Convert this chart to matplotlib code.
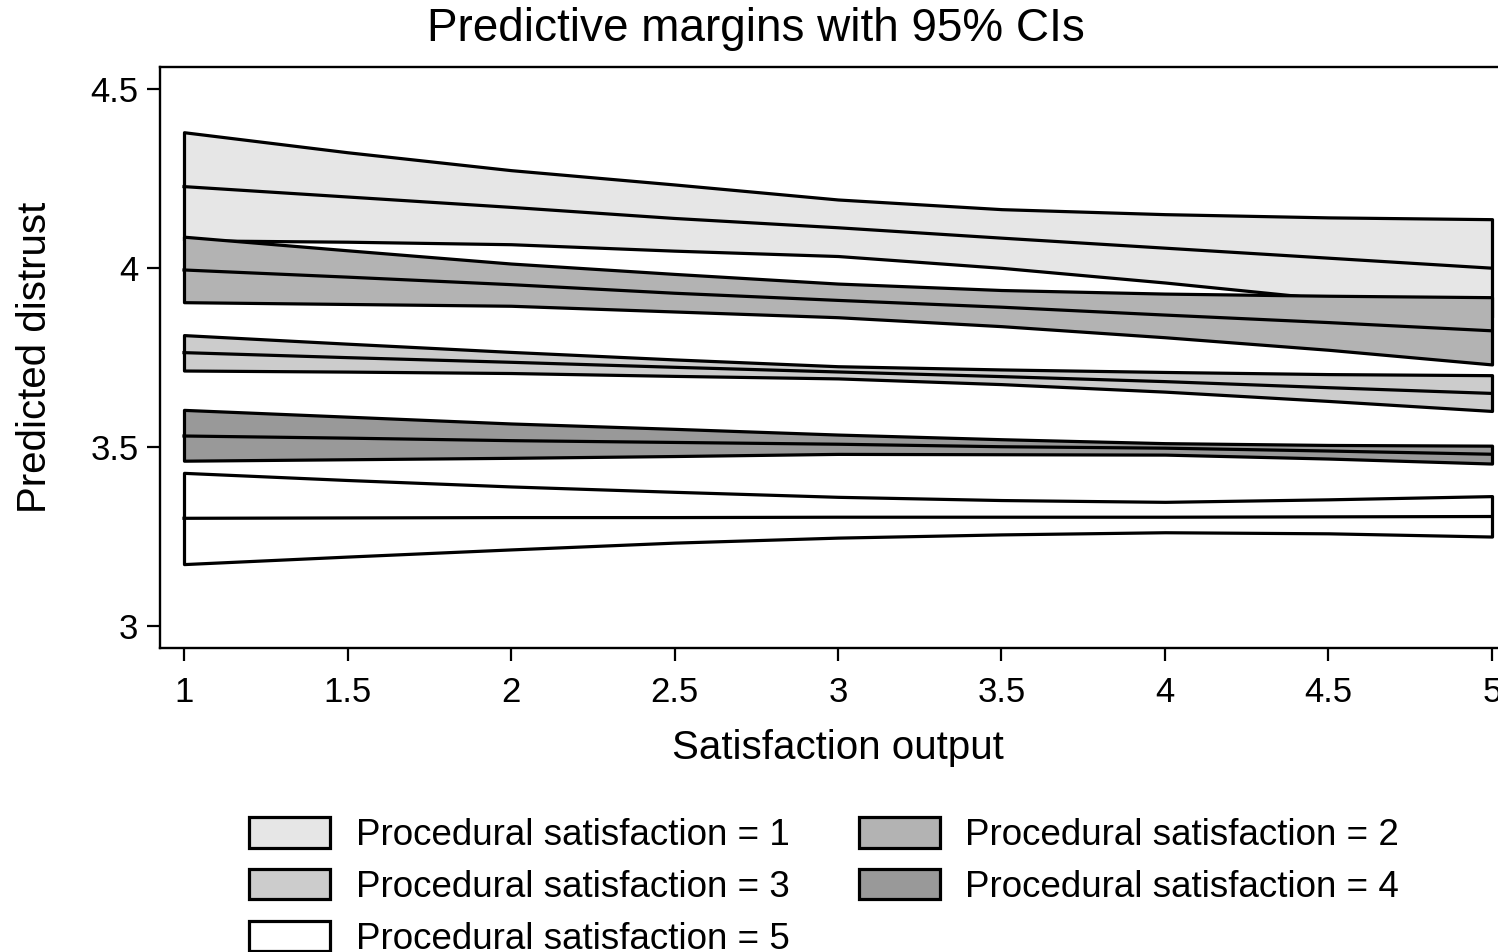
import matplotlib
matplotlib.use('Agg')
import matplotlib.pyplot as plt

plt.rcParams['font.family'] = ['Liberation Sans', 'DejaVu Sans']

# satisfaction output values (x)
sat_output = [1, 1.5, 2, 2.5, 3, 3.5, 4, 4.5, 5]

# predictive margins and 95% CI bounds, one set per procedural satisfaction level
ps1_mean = [4.228, 4.199, 4.170, 4.139, 4.113, 4.084, 4.056, 4.028, 4.000]
ps1_upper = [4.380, 4.324, 4.274, 4.234, 4.192, 4.165, 4.151, 4.142, 4.137]
ps1_lower = [4.078, 4.074, 4.067, 4.049, 4.034, 4.001, 3.960, 3.914, 3.863]

ps2_mean = [3.995, 3.975, 3.954, 3.930, 3.910, 3.891, 3.869, 3.848, 3.825]
ps2_upper = [4.088, 4.050, 4.013, 3.984, 3.957, 3.939, 3.929, 3.923, 3.919]
ps2_lower = [3.905, 3.900, 3.895, 3.879, 3.863, 3.838, 3.807, 3.772, 3.731]

ps3_mean = [3.764, 3.750, 3.737, 3.723, 3.710, 3.697, 3.683, 3.666, 3.650]
ps3_upper = [3.813, 3.789, 3.766, 3.745, 3.726, 3.717, 3.710, 3.704, 3.701]
ps3_lower = [3.714, 3.711, 3.707, 3.699, 3.692, 3.676, 3.655, 3.629, 3.601]

ps4_mean = [3.531, 3.525, 3.518, 3.513, 3.508, 3.501, 3.497, 3.489, 3.480]
ps4_upper = [3.604, 3.585, 3.566, 3.551, 3.535, 3.522, 3.511, 3.506, 3.504]
ps4_lower = [3.462, 3.466, 3.470, 3.475, 3.481, 3.480, 3.479, 3.468, 3.454]

ps5_mean = [3.301, 3.302, 3.303, 3.303, 3.304, 3.304, 3.304, 3.305, 3.306]
ps5_upper = [3.428, 3.408, 3.390, 3.375, 3.361, 3.352, 3.347, 3.354, 3.363]
ps5_lower = [3.173, 3.194, 3.214, 3.233, 3.247, 3.256, 3.262, 3.259, 3.250]

labels = ['Procedural satisfaction = %d' % i for i in range(1, 6)]
colors = ['#e6e6e6', '#b3b3b3', '#cccccc', '#999999', '#ffffff']

groups = [
    (ps1_mean, ps1_lower, ps1_upper),
    (ps2_mean, ps2_lower, ps2_upper),
    (ps3_mean, ps3_lower, ps3_upper),
    (ps4_mean, ps4_lower, ps4_upper),
    (ps5_mean, ps5_lower, ps5_upper),
]

fig = plt.figure(figsize=(14.98, 9.52), dpi=100)
ax = fig.add_axes([160 / 1498, 304 / 952, 1356 / 1498, 581 / 952])

handles = []
for (m, lo, hi), c, lab in zip(groups, colors, labels):
    h = ax.fill_between(sat_output, lo, hi, facecolor=c, edgecolor='black',
                        linewidth=2.3, label=lab, zorder=2)
    handles.append(h)
for (m, lo, hi) in groups:
    ax.plot(sat_output, m, color='black', linewidth=2.3, zorder=3)

ax.set_xlim(0.9266, 5.0734)
ax.set_ylim(2.9385, 4.5623)
ax.set_xticks([1, 1.5, 2, 2.5, 3, 3.5, 4, 4.5, 5])
ax.set_xticklabels(['1', '1.5', '2', '2.5', '3', '3.5', '4', '4.5', '5'])
ax.set_yticks([3, 3.5, 4, 4.5])
ax.set_yticklabels(['3', '3.5', '4', '4.5'])
ax.tick_params(axis='both', direction='out', length=9.5, width=1.6,
               labelsize=25)
ax.tick_params(axis='x', pad=11)
ax.tick_params(axis='y', pad=6)
for s in ax.spines.values():
    s.set_linewidth(1.7)

ax.set_xlabel('Satisfaction output', fontsize=29, labelpad=14)
ax.set_ylabel('Predicted distrust', fontsize=29, labelpad=26)
fig.text(756 / 1498, 1 - 29 / 952, 'Predictive margins with 95% CIs',
         fontsize=33, ha='center', va='center')

# row-major order for a 2-column legend
order = [0, 2, 4, 1, 3]
fig.legend([handles[i] for i in order], [labels[i] for i in order],
           loc='upper left', bbox_to_anchor=(249 / 1498, 1 - 817 / 952),
           ncol=2, frameon=False, fontsize=26.5, borderpad=0, borderaxespad=0,
           handlelength=2.2, handleheight=0.9, handletextpad=0.7,
           columnspacing=1.88, labelspacing=0.43)

fig.savefig('out.png', dpi=100)
